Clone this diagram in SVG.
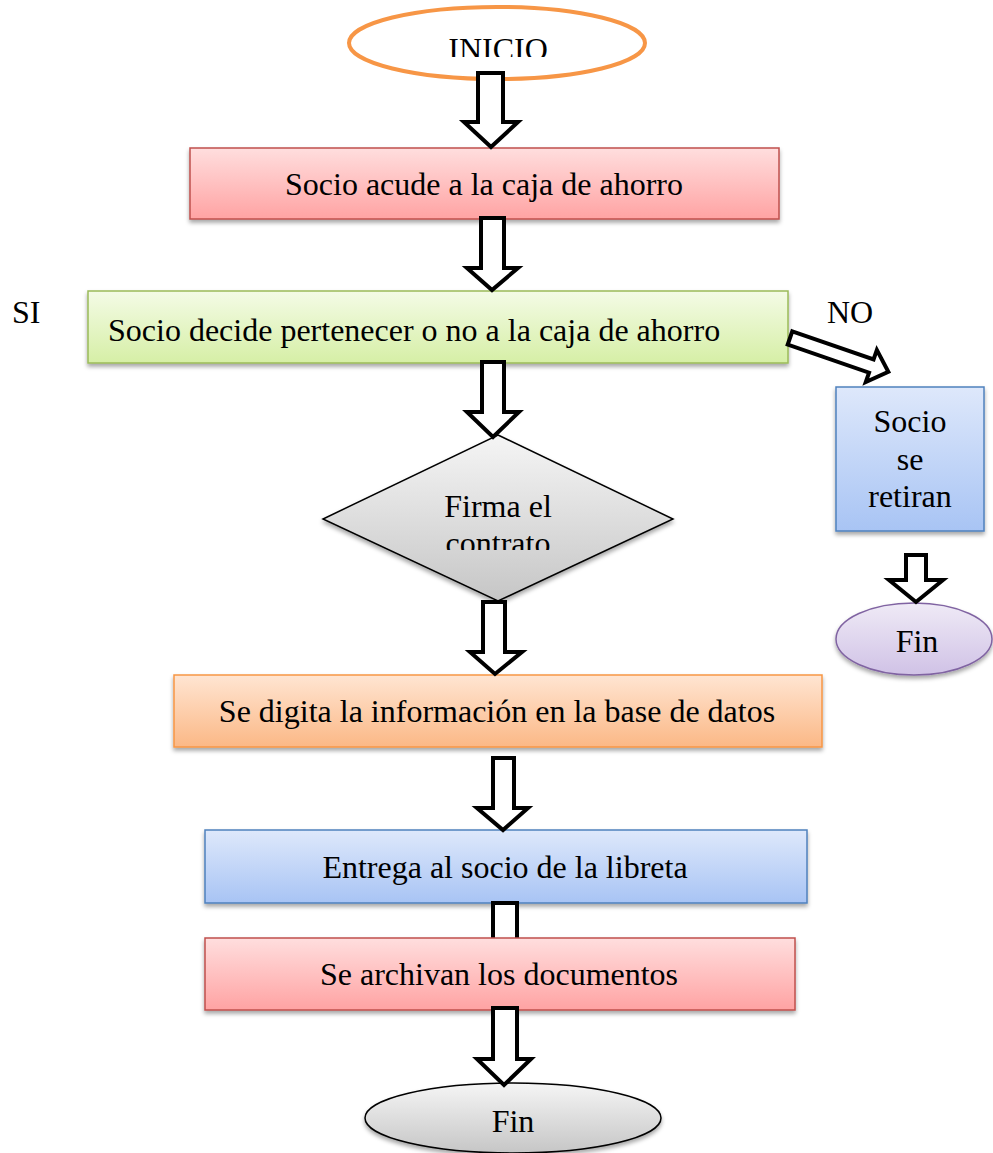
<svg xmlns="http://www.w3.org/2000/svg" width="993" height="1153" viewBox="0 0 993 1153">
  <style>
    .t { font-family: "Liberation Serif", "Times New Roman", serif; font-size: 32px; fill: #000; }
    .mid { text-anchor: middle; }
    .arrow { fill: #fff; stroke: #000; stroke-width: 4; stroke-linejoin: miter; stroke-miterlimit: 10; }
    .box { stroke-width: 1.5; filter: url(#shadow); }
  </style>
  <defs>
    <filter id="shadow" x="-10%" y="-20%" width="120%" height="150%">
      <feDropShadow dx="0" dy="3" stdDeviation="2" flood-color="#000" flood-opacity="0.35"/>
    </filter>
    <linearGradient id="gRed" x1="0" y1="0" x2="0" y2="1">
      <stop offset="0" stop-color="#FFDEDE"/>
      <stop offset="1" stop-color="#FFA3A3"/>
    </linearGradient>
    <linearGradient id="gGreen" x1="0" y1="0" x2="0" y2="1">
      <stop offset="0" stop-color="#F4FBE6"/>
      <stop offset="1" stop-color="#D6EFA6"/>
    </linearGradient>
    <linearGradient id="gOrange" x1="0" y1="0" x2="0" y2="1">
      <stop offset="0" stop-color="#FFE5D2"/>
      <stop offset="1" stop-color="#FBB886"/>
    </linearGradient>
    <linearGradient id="gBlue" x1="0" y1="0" x2="0" y2="1">
      <stop offset="0" stop-color="#DEE8FB"/>
      <stop offset="1" stop-color="#A8C4F4"/>
    </linearGradient>
    <linearGradient id="gPurple" x1="0" y1="0" x2="0" y2="1">
      <stop offset="0" stop-color="#EFEAF6"/>
      <stop offset="1" stop-color="#D0C2E6"/>
    </linearGradient>
    <linearGradient id="gGray" x1="0" y1="0" x2="0" y2="1">
      <stop offset="0" stop-color="#F5F5F5"/>
      <stop offset="1" stop-color="#C6C6C6"/>
    </linearGradient>
    <clipPath id="clipInicio"><rect x="400" y="0" width="200" height="57"/></clipPath>
    <clipPath id="clipFirma"><rect x="380" y="470" width="240" height="80"/></clipPath>
  </defs>

  <rect width="993" height="1153" fill="#fff"/>

  <!-- start terminal -->
  <g id="inicio">
    <ellipse cx="497" cy="43" rx="148" ry="36" fill="#fff" stroke="#F79646" stroke-width="4"/>
    <text class="t mid" x="498" y="60" clip-path="url(#clipInicio)">INICIO</text>
  </g>

  <g id="acude">
    <rect class="box" x="190" y="148" width="589" height="71" fill="url(#gRed)" stroke="#C0504D"/>
    <text class="t mid" x="484" y="195">Socio acude a la caja de ahorro</text>
  </g>

  <g id="decide">
    <rect class="box" x="88" y="291" width="700" height="72" fill="url(#gGreen)" stroke="#9BBB59"/>
    <text class="t" x="108" y="341">Socio decide pertenecer o no a la caja de ahorro</text>
  </g>

  <g id="label-si"><text class="t" x="12" y="323">SI</text></g>
  <g id="label-no"><text class="t" x="827" y="323">NO</text></g>

  <g id="retiran">
    <rect class="box" x="836" y="387" width="148" height="144" fill="url(#gBlue)" stroke="#4F81BD"/>
    <text class="t mid" x="910" y="432">Socio</text>
    <text class="t mid" x="910" y="470">se</text>
    <text class="t mid" x="910" y="507">retiran</text>
  </g>

  <g id="fin-no">
    <ellipse class="box" cx="914" cy="639" rx="78" ry="36" fill="url(#gPurple)" stroke="#8064A2"/>
    <text class="t mid" x="917" y="652">Fin</text>
  </g>

  <g id="firma">
    <polygon class="box" points="498,435 673,519 498,601 323,519" fill="url(#gGray)" stroke="#000"/>
    <g clip-path="url(#clipFirma)">
      <text class="t mid" x="498" y="517">Firma el</text>
      <text class="t mid" x="498" y="554">contrato</text>
    </g>
  </g>

  <g id="digita">
    <rect class="box" x="174" y="675" width="648" height="72" fill="url(#gOrange)" stroke="#F79646"/>
    <text class="t mid" x="497" y="722">Se digita la información en la base de datos</text>
  </g>

  <g id="entrega">
    <rect class="box" x="205" y="830" width="602" height="73" fill="url(#gBlue)" stroke="#4F81BD"/>
    <text class="t mid" x="505" y="878">Entrega al socio de la libreta</text>
  </g>

  <!-- short link runs underneath the next box -->
  <g id="link-under">
    <path class="arrow" d="M493,940 V903 H517 V940"/>
  </g>

  <g id="archivan">
    <rect class="box" x="205" y="938" width="590" height="72" fill="url(#gRed)" stroke="#C0504D"/>
    <text class="t mid" x="499" y="985">Se archivan los documentos</text>
  </g>

  <g id="fin">
    <ellipse class="box" cx="513" cy="1118" rx="148" ry="35" fill="url(#gGray)" stroke="#000" stroke-width="1.3"/>
    <text class="t mid" x="513" y="1132">Fin</text>
  </g>

  <!-- block arrows -->
  <g id="connectors">
    <polygon class="arrow" points="478,73 503,73 503,122 518,122 491,147 464,122 478,122"/>
    <polygon class="arrow" points="481,218 504,218 504,268 518,268 492,290 467,268 481,268"/>
    <polygon class="arrow" points="482,362 504,362 504,412 519,412 493,437 467,412 482,412"/>
    <polygon class="arrow" points="483,602 505,602 505,652 522,652 495,674 470,652 483,652"/>
    <polygon class="arrow" points="493,758 514,758 514,808 528,808 503,830 477,808 493,808"/>
    <polygon class="arrow" points="493,1008 517,1008 517,1059 531,1059 504,1085 477,1059 493,1059"/>
    <polygon class="arrow" points="906,555 926,555 926,580 943,580 916,602 889,580 906,580"/>
    <!-- NO branch, tilted toward the side box -->
    <polygon class="arrow" transform="translate(790,338) rotate(19)" points="0,-7 86,-7 86,-17 104,0 86,17 86,7 0,7"/>
  </g>
</svg>
